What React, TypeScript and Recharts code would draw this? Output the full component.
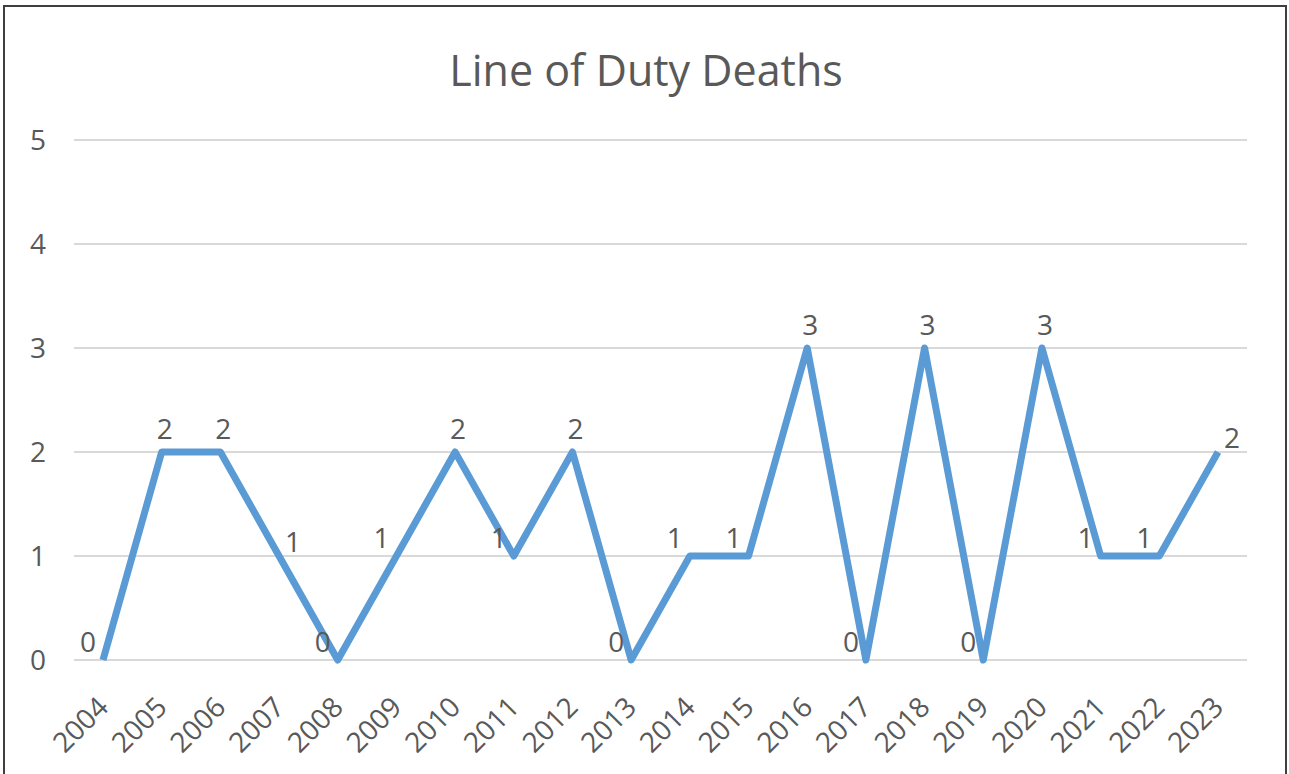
import React from "react";
import {
  LineChart,
  Line,
  XAxis,
  YAxis,
  CartesianGrid,
  LabelList,
} from "recharts";

const years = [
  "2004", "2005", "2006", "2007", "2008", "2009", "2010", "2011", "2012", "2013",
  "2014", "2015", "2016", "2017", "2018", "2019", "2020", "2021", "2022", "2023",
];

const deaths = [0, 2, 2, 1, 0, 1, 2, 1, 2, 0, 1, 1, 3, 0, 3, 0, 3, 1, 1, 2];

// where each data label sits relative to its point
const labelSide = [
  "left", "top", "top", "right", "left", "left", "top", "left", "top", "left",
  "left", "left", "top", "left", "top", "left", "top", "left", "left", "right",
];

const yTicks = [0, 1, 2, 3, 4, 5];

const data = years.map((year, i) => ({ year, deaths: deaths[i] }));

const FONT = "'Open Sans', 'Noto Sans', sans-serif";
const TEXT = "#595959";

const sideOffset: Record<string, { dx: number; dy: number }> = {
  top: { dx: 3, dy: -24 },
  left: { dx: -15, dy: -19 },
  right: { dx: 14, dy: -15 },
};

const PointLabel = (props: any) => {
  const { x, y, value, index } = props;
  const off = sideOffset[labelSide[index]] || sideOffset.top;
  return (
    <text
      x={x + off.dx}
      y={y + off.dy}
      textAnchor="middle"
      dominantBaseline="central"
      fill={TEXT}
      fontSize={28}
      fontFamily={FONT}
    >
      {value}
    </text>
  );
};

const YearTick = (props: any) => {
  const { x, y, payload } = props;
  return (
    <g transform={`translate(${x + 7},${y + 41})`}>
      <text
        x={0}
        y={0}
        textAnchor="end"
        transform="rotate(-45)"
        fill={TEXT}
        fontSize={28}
        fontFamily={FONT}
      >
        {payload.value}
      </text>
    </g>
  );
};

const App = () => {
  return (
    <div
      style={{
        position: "absolute",
        left: 0,
        top: 0,
        width: 1289,
        height: 774,
        background: "#fff",
        overflow: "hidden",
      }}
    >
      <div
        style={{
          position: "absolute",
          top: 40,
          left: 0,
          width: 1292,
          textAlign: "center",
          fontFamily: FONT,
          fontSize: 43,
          color: TEXT,
        }}
      >
        Line of Duty Deaths
      </div>
      <div style={{ position: "absolute", left: 0, top: 0 }}>
        <LineChart
          width={1289}
          height={774}
          data={data}
          margin={{ top: 140, right: 42, bottom: 0, left: 10 }}
        >
          <CartesianGrid vertical={false} stroke="#d9d9d9" strokeWidth={2} />
          <XAxis
            dataKey="year"
            axisLine={false}
            tickLine={false}
            interval={0}
            padding={{ left: 29, right: 29 }}
            tick={<YearTick />}
            height={114}
          />
          <YAxis
            domain={[0, 5]}
            ticks={yTicks}
            axisLine={false}
            tickLine={false}
            tickSize={0}
            tickMargin={28}
            width={64}
            tick={{ fill: TEXT, fontSize: 28, fontFamily: FONT }}
          />
          <Line
            type="linear"
            dataKey="deaths"
            stroke="#5b9bd5"
            strokeWidth={7}
            strokeLinejoin="round"
            dot={false}
            activeDot={false}
            isAnimationActive={false}
          >
            <LabelList dataKey="deaths" content={<PointLabel />} />
          </Line>
        </LineChart>
      </div>
      <div
        style={{
          position: "absolute",
          left: 3,
          top: 5,
          width: 1284,
          height: 800,
          border: "2px solid #3f3f3f",
          boxSizing: "border-box",
          pointerEvents: "none",
        }}
      />
    </div>
  );
};

export default App;
